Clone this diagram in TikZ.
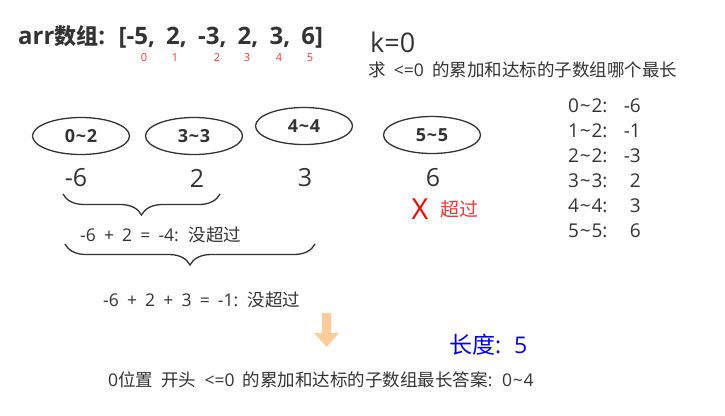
\documentclass[tikz,border=0pt]{standalone}
\usepackage{fontspec}
\setmainfont{Open Sans}[WordSpace=1.8]
\newfontfamily\cjk{Noto Sans CJK SC}
\usetikzlibrary{shapes.geometric, positioning, decorations.pathreplacing}
\definecolor{txt}{HTML}{333333}
\definecolor{idxred}{HTML}{FF3333}
\definecolor{pale}{HTML}{FFCC99}
\newcommand{\wave}{\kern0.8pt\textasciitilde\kern0.8pt}

\begin{document}
\begin{tikzpicture}[x=1pt, y=-1pt,
    every node/.style={inner sep=0pt, text=txt},
    rng/.style={ellipse, draw=txt, line width=1.3pt, minimum width=97pt, minimum height=37pt,
                font=\fontsize{18}{18}\selectfont\bfseries},
    sumv/.style={font=\fontsize{25}{25}\selectfont},
    idx/.style={font=\fontsize{11}{11}\selectfont, text=idxred},
    note/.style={anchor=west, font=\fontsize{17.5}{17.5}\selectfont},
    lst/.style={font=\fontsize{19}{19}\selectfont},
    brc/.style={draw=txt, line width=1.3pt, decorate, decoration={brace, mirror, amplitude=21pt}}]
    \useasboundingbox (0,0) rectangle (725,415);

    % header
    \node[anchor=west, font=\fontsize{24}{24}\selectfont\bfseries] (title) at (18,37) {arr{\cjk\fontsize{22}{22}\selectfont 数组}: [-5, 2, -3, 2, 3, 6]};
    \foreach \i/\x in {0/144, 1/175, 2/217, 3/247, 4/279, 5/310}
        \node[idx] (i\i) at (\x,58) {\i};
    \node[anchor=west, font=\fontsize{27}{27}\selectfont] (k) at (370,42) {k=0};
    \node[note] (ask) at (368,70) {{\cjk 求} <=0 {\cjk 的累加和达标的子数组哪个最长}};

    % ranges
    \node[rng] (r02) at (81,136) {0\wave2};
    \node[rng] (r33) at (194,136) {3\wave3};
    \node[rng] (r44) at (304,126) {4\wave4};
    \node[rng] (r55) at (432,135) {5\wave5};

    \node[sumv] (s02) at (76,178) {-6};
    \node[sumv] (s33) at (197,178) {2};
    \node[sumv] (s44) at (305,178) {3};
    \node[sumv] (s55) at (433,178) {6};

    \node[font=\fontsize{29}{29}\selectfont, text=red] (cross) at (420,209) {X};
    \node[right=12pt of cross, text=idxred, font=\fontsize{19}{19}\selectfont\cjk] (over) {超过};

    % braces
    \coordinate (b1l) at (63,194);
    \coordinate (b1r) at (220,194);
    \coordinate (b2l) at (65,244);
    \coordinate (b2r) at (315,244);
    \draw[brc] (b1l) -- (b1r);
    \draw[brc] (b2l) -- (b2r);
    \node[note] (sum1) at (80,235) {-6 + 2 = -4: {\cjk 没超过}};
    \node[note] (sum2) at (103,300) {-6 + 2 + 3 = -1: {\cjk 没超过}};

    % result
    \fill[pale] (322,313) -- (331,313) -- (331,333) -- (339,333) -- (326.5,347) -- (314,333) -- (322,333) -- cycle;
    \node[anchor=west, text=blue, font=\fontsize{23}{23}\selectfont] (len) at (449,345) {{\cjk 长度}: 5};
    \node[note] (ans) at (108,380) {0{\cjk 位置} {\cjk 开头} <=0 {\cjk 的累加和达标的子数组最长答案}: 0\wave4};

    % list of sums
    \foreach \r/\v [count=\n] in {0/2/-6, 1/2/-1, 2/2/-3, 3/3/2, 4/4/3, 5/5/6}{
        \pgfmathtruncatemacro\yy{106+(\n-1)*25}
        \node[lst, anchor=west] (l\n) at (568,\yy) {\r\wave\v:};
    }
    \foreach \v [count=\n] in {-6, -1, -3, 2, 3, 6}{
        \pgfmathtruncatemacro\yy{106+(\n-1)*25}
        \node[lst, anchor=east] (v\n) at (641,\yy) {\v};
    }
\end{tikzpicture}
\end{document}
